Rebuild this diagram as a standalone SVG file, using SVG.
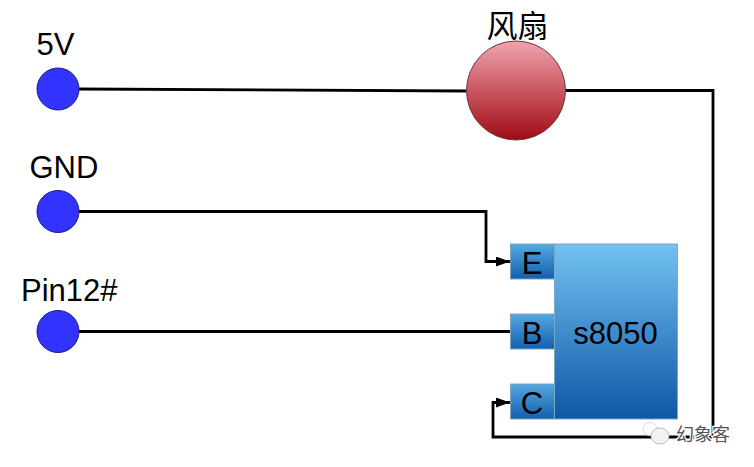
<svg xmlns="http://www.w3.org/2000/svg" width="754" height="467" viewBox="0 0 754 467">
<style>
.t{font-family:"Liberation Sans",Arial,sans-serif;font-size:31px;fill:#000}
.c{text-anchor:middle}
.w{fill:none;stroke:#000;stroke-width:2.8}
.pin{fill:#3333ff;stroke:#1a1a8c;stroke-width:1}
.box{fill:url(#blue);stroke:#7fa6c4;stroke-width:1}
.sm{fill:url(#blue2);stroke:#7fa6c4;stroke-width:1}
.wm{font-family:"Noto Sans CJK SC",sans-serif;font-size:18px}
</style>
<defs>
<linearGradient id="blue" x1="0" y1="0" x2="0" y2="1"><stop offset="0" stop-color="#72c2f2"/><stop offset="1" stop-color="#0f57a6"/></linearGradient>
<linearGradient id="blue2" x1="0" y1="0" x2="0" y2="1"><stop offset="0" stop-color="#55a8e2"/><stop offset="1" stop-color="#125fae"/></linearGradient>
<linearGradient id="red" x1="0" y1="0" x2="0" y2="1"><stop offset="0" stop-color="#f2a4ae"/><stop offset="1" stop-color="#a00a14"/></linearGradient>
<marker id="arr" markerUnits="userSpaceOnUse" markerWidth="14" markerHeight="10" refX="14" refY="5" orient="auto"><path d="M0 0L14 5L0 10z" fill="#000"/></marker>
</defs>
<rect width="754" height="467" fill="#fff"/>
<g id="connectors">
<path class="w" d="M79 89L467 91"/>
<path class="w" d="M565 90.500H713V437H493V402.500H510" marker-end="url(#arr)"/>
<path class="w" d="M79 211.500H486V261.500H510" marker-end="url(#arr)"/>
<path class="w" d="M79 331.500H510"/>
</g>
<g id="pin-5v"><circle class="pin" cx="58" cy="89" r="21"/><text class="t" x="36.500" y="55">5V</text></g>
<g id="pin-gnd"><circle class="pin" cx="58" cy="211.500" r="21"/><text class="t" x="29.500" y="178">GND</text></g>
<g id="pin-12"><circle class="pin" cx="58" cy="331.500" r="21"/><text class="t" x="21" y="301">Pin12#</text></g>
<g id="fan"><circle cx="516" cy="90.500" r="49.500" fill="url(#red)" stroke="#6b3a40" stroke-width="1"/><text class="t c" x="517.500" y="37" style="font-family:'Liberation Sans','Noto Sans CJK SC',sans-serif">风扇</text></g>
<g id="s8050"><rect class="box" x="554.500" y="244" width="123" height="175"/><text class="t c" x="615.500" y="344">s8050</text></g>
<g id="pin-e"><rect class="sm" x="510.500" y="244" width="44" height="35"/><text class="t c" x="532" y="274">E</text></g>
<g id="pin-b"><rect class="sm" x="510.500" y="314" width="44" height="35"/><text class="t c" x="532" y="344">B</text></g>
<g id="pin-c"><rect class="sm" x="510.500" y="384" width="44" height="35"/><text class="t c" x="532" y="414">C</text></g>
<g id="watermark">
<ellipse cx="650" cy="429" rx="7" ry="6.500" fill="#fff" stroke="#d8d8d8" stroke-width="1"/>
<ellipse cx="660" cy="436" rx="9" ry="8" fill="#f2f2f2" stroke="#bbb" stroke-width="1"/>
<text class="wm" x="676" y="441" fill="#fff" stroke="#fff" stroke-width="2.500">幻象客</text>
<text class="wm" x="676" y="441" fill="#555">幻象客</text>
</g>
</svg>
